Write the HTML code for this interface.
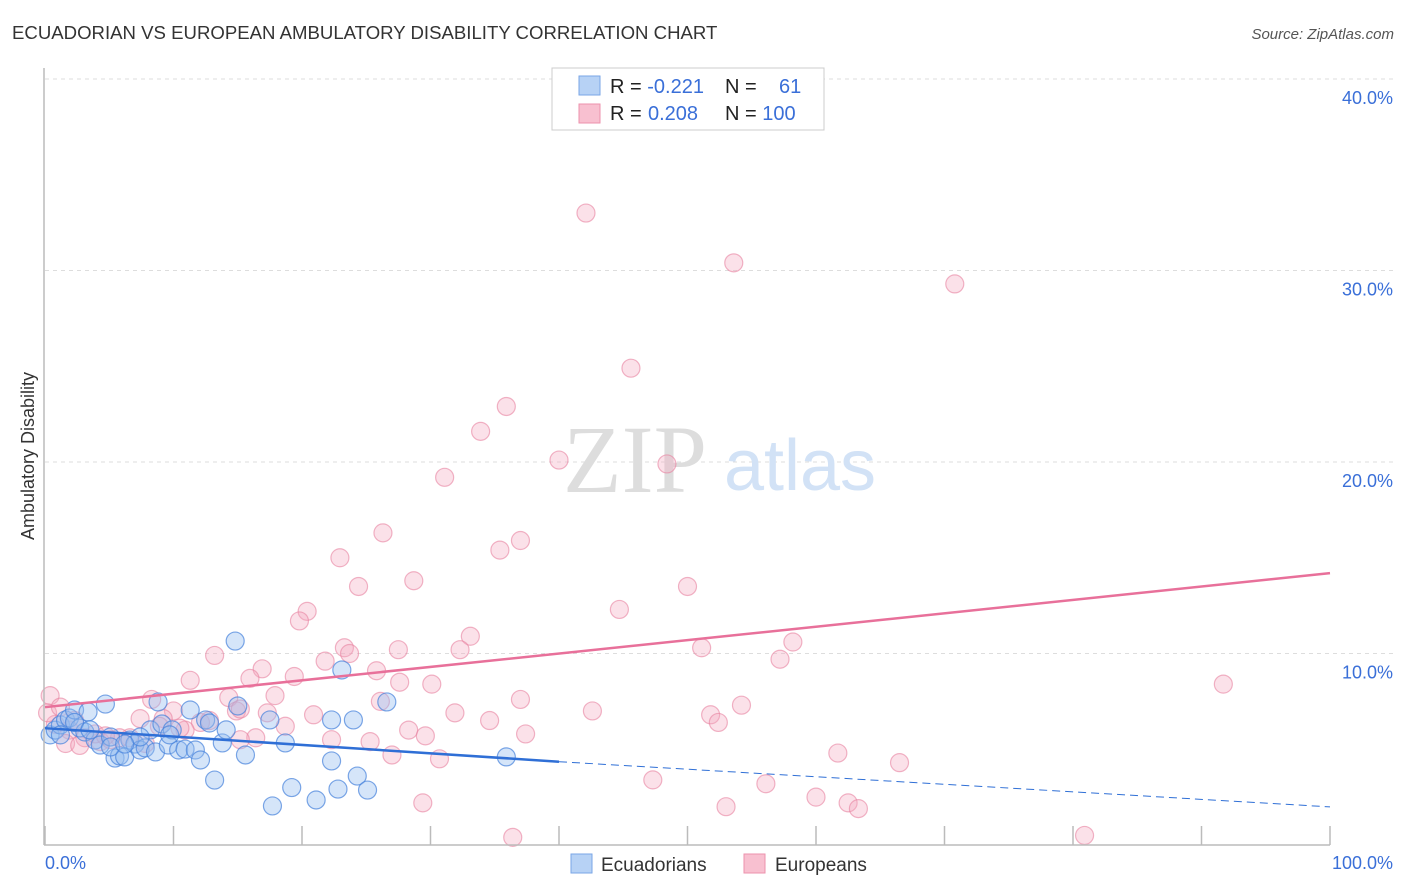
<!DOCTYPE html>
<html><head><meta charset="utf-8">
<style>
body{margin:0;background:#fff;font-family:"Liberation Sans",sans-serif;}
#wrap{position:relative;width:1406px;height:892px;overflow:hidden;}
</style></head>
<body>
<div id="wrap">
<svg id="svg" width="1406" height="892" xmlns="http://www.w3.org/2000/svg">
<text x="12" y="39" font-size="18.6" fill="#333">ECUADORIAN VS EUROPEAN AMBULATORY DISABILITY CORRELATION CHART</text>
<text x="1394" y="39" font-size="15" fill="#555" font-style="italic" text-anchor="end">Source: ZipAtlas.com</text>
<text x="34" y="456" font-size="18" fill="#333" text-anchor="middle" transform="rotate(-90 34 456)">Ambulatory Disability</text>
<g id="grid"></g>
<text x="635" y="492" font-size="96" fill="#ddd" font-family="Liberation Serif,serif" text-anchor="middle">ZIP</text>
<text x="800" y="490" font-size="72" fill="#d2e2f6" text-anchor="middle">atlas</text>
<g id="marks"></g>
<g id="lines"></g>
<line x1="44" y1="68" x2="44" y2="845" stroke="#bbb" stroke-width="1.5"/>
<line x1="44" y1="845" x2="1330" y2="845" stroke="#bbb" stroke-width="1.5"/>
<text x="45" y="869" font-size="18" fill="#3a6fd8">0.0%</text>
<text x="1393" y="869" font-size="18" fill="#3a6fd8" text-anchor="end">100.0%</text>
<g>
<rect x="552" y="68" width="272" height="62" fill="#fff" stroke="#ccc"/>
<rect x="579" y="76" width="21" height="19" fill="#b7d2f5" stroke="#7aa6e6"/>
<rect x="579" y="104" width="21" height="19" fill="#f8c0d0" stroke="#ec92ad"/>
<text x="610" y="93" font-size="20" fill="#222">R = <tspan fill="#3a6fd8">-0.221</tspan></text>
<text x="725" y="93" font-size="20" fill="#222">N = <tspan fill="#3a6fd8" x="779">61</tspan></text>
<text x="610" y="120" font-size="20" fill="#222">R = <tspan fill="#3a6fd8" x="648">0.208</tspan></text>
<text x="725" y="120" font-size="20" fill="#222">N = <tspan fill="#3a6fd8">100</tspan></text>
</g>
<g>
<rect x="571" y="854" width="21" height="19" fill="#b7d2f5" stroke="#7aa6e6"/>
<text x="601" y="871" font-size="19" fill="#333">Ecuadorians</text>
<rect x="744" y="854" width="21" height="19" fill="#f8c0d0" stroke="#ec92ad"/>
<text x="775" y="871" font-size="19" fill="#333">Europeans</text>
</g>
</svg>
</div>
<script>
const yTicks=[10,20,30,40];
const yTickLabels=["10.0%","20.0%","30.0%","40.0%"];
const xTicks=[0,10,20,30,40,50,60,70,80,90,100];
const ecuX=[0.4,0.8,1.2,1.6,1.9,2.3,2.7,3.1,3.35,3.9,4.3,4.7,5.1,5.45,5.8,6.2,6.6,7.0,7.4,7.8,8.2,8.6,8.8,9.1,9.6,9.9,10.4,10.9,11.3,11.7,12.1,12.5,12.8,13.2,13.8,14.1,14.8,15.0,15.6,17.5,17.7,18.7,19.2,21.1,22.3,22.3,22.8,23.1,24.0,24.3,25.1,26.6,35.9,1.2,2.3,3.5,7.4,9.7,5.1,6.2];
const ecuY=[5.75,6.0,6.27,6.53,6.63,7.05,6.11,5.9,6.95,5.48,5.22,7.36,5.64,4.54,4.65,4.6,5.48,5.27,4.96,5.07,6.01,4.86,7.47,6.32,5.22,6.01,4.96,5.01,7.05,4.96,4.44,6.53,6.37,3.39,5.33,6.01,10.65,7.26,4.7,6.53,2.04,5.33,3.0,2.35,6.53,4.39,2.92,9.14,6.53,3.6,2.87,7.47,4.6,5.75,6.4,6.01,5.64,5.75,5.12,5.27];
const eurX=[42.1,53.6,70.8,45.6,35.9,33.9,40.0,48.4,31.1,26.3,37.0,35.4,22.95,24.4,28.7,50.0,44.7,20.4,19.8,33.1,23.3,32.3,58.2,51.1,57.2,13.2,21.8,16.9,23.7,25.8,27.5,19.4,11.3,15.95,30.1,27.6,91.7,37.0,17.9,8.3,14.3,54.2,42.6,14.9,17.3,20.9,31.9,34.6,51.8,52.4,10.0,12.1,9.2,7.4,28.3,29.6,37.4,22.3,25.3,27.0,61.7,30.7,66.5,6.6,5.8,4.3,3.1,1.9,0.8,0.4,0.2,1.2,47.3,56.1,29.4,53.0,60.0,62.5,63.3,36.4,80.9,1.6,2.7,5.1,7.8,10.9,12.8,15.2,18.7,16.4,10.5,8.9,3.9,2.3,4.7,15.2,26.1];
const eurY=[33.0,30.4,29.3,24.9,22.9,21.6,20.1,19.9,19.2,16.3,15.9,15.4,15.0,13.5,13.8,13.5,12.3,12.2,11.7,10.9,10.3,10.2,10.6,10.3,9.7,9.9,9.6,9.2,10.0,9.1,10.2,8.8,8.6,8.7,8.4,8.5,8.4,7.6,7.8,7.6,7.7,7.3,7.0,7.0,6.9,6.8,6.9,6.5,6.8,6.4,7.0,6.4,6.6,6.6,6.0,5.7,5.8,5.5,5.4,4.7,4.8,4.5,4.3,5.6,5.6,5.4,5.6,6.0,6.3,7.8,6.9,7.2,3.4,3.2,2.2,2.0,2.5,2.2,1.9,0.4,0.5,5.3,5.2,5.5,5.3,6.0,6.5,7.1,6.2,5.6,6.1,6.2,5.8,6.5,5.7,5.5,7.5];
const ecuTrend=[[0,6.1],[40,4.35]];
const ecuTrendDash=[[40,4.35],[100,1.99]];
const eurTrend=[[0,7.2],[100,14.2]];

const X0=45,X1=1330,Y0=845,YPER=19.15;
function xs(v){return X0+(X1-X0)*v/100;}
function ys(v){return Y0-v*YPER;}
const NS="http://www.w3.org/2000/svg";
function mk(t,a,p){const e=document.createElementNS(NS,t);for(const k in a)e.setAttribute(k,a[k]);p.appendChild(e);return e;}
const grid=document.getElementById('grid');
yTicks.forEach((t,i)=>{
  const l=mk('line',{x1:45,x2:1393,y1:ys(t),y2:ys(t),stroke:'#ddd','stroke-dasharray':'4,4'},grid);
  
  
  const tx=mk('text',{x:1393,y:ys(t)+25,'font-size':18,fill:'#3a6fd8','text-anchor':'end'},grid);
  tx.textContent=yTickLabels[i];
  
  
});
const topl=mk('line',{x1:45,x2:1393,y1:79,y2:79,stroke:'#ddd','stroke-dasharray':'4,4'},grid);


xTicks.forEach(t=>{
  const l=mk('line',{x1:xs(t),x2:xs(t),y1:826,y2:845,stroke:'#bbb','stroke-width':1.5},grid);
  
  
});
const marks=document.getElementById('marks');
eurX.forEach((x,i)=>{
  const c=mk('circle',{cx:xs(x),cy:ys(eurY[i]),r:9,fill:'rgba(244,168,192,0.35)',stroke:'rgba(232,130,160,0.6)','stroke-width':1.2},marks);
  
  
});
ecuX.forEach((x,i)=>{
  const c=mk('circle',{cx:xs(x),cy:ys(ecuY[i]),r:9,fill:'rgba(150,190,240,0.4)',stroke:'rgba(70,130,220,0.7)','stroke-width':1.2},marks);
  
  
});
const lines=document.getElementById('lines');
const l1=mk('line',{x1:xs(eurTrend[0][0]),y1:ys(eurTrend[0][1]),x2:xs(eurTrend[1][0]),y2:ys(eurTrend[1][1]),stroke:'#e8709a','stroke-width':2.5},lines);


const l2=mk('line',{x1:xs(ecuTrend[0][0]),y1:ys(ecuTrend[0][1]),x2:xs(ecuTrend[1][0]),y2:ys(ecuTrend[1][1]),stroke:'#2f6fd6','stroke-width':2.5},lines);


const l3=mk('line',{x1:xs(ecuTrendDash[0][0]),y1:ys(ecuTrendDash[0][1]),x2:xs(ecuTrendDash[1][0]),y2:ys(ecuTrendDash[1][1]),stroke:'#2f6fd6','stroke-width':1,'stroke-dasharray':'8,5'},lines);


</script>
</body></html>
